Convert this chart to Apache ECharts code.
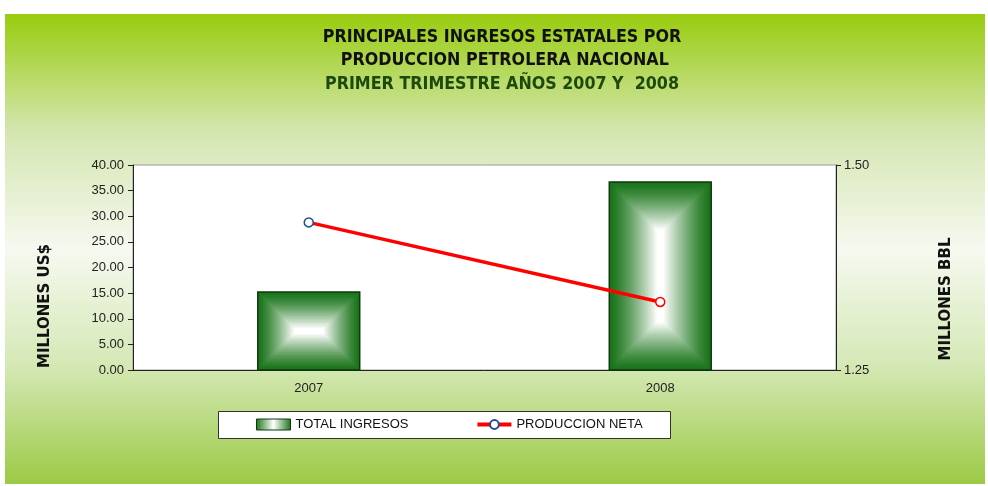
<!DOCTYPE html>
<html>
<head>
<meta charset="utf-8">
<script src="https://cdn.jsdelivr.net/npm/echarts@6/dist/echarts.min.js"></script>
<style>
  html, body { margin: 0; padding: 0; background: #fff; }
  #chart { width: 988px; height: 486px; }
</style>
</head>
<body>
<div id="chart"></div>
<script>
// datos
const years = ['2007', '2008'];
const totalIngresos = [15.2, 36.7];      // millones US$
const produccionNeta = [1.430, 1.333];   // millones BBL
const leftTicks = { min: 0, max: 40, interval: 5 };
const rightTicks = { min: 1.25, max: 1.5, interval: 0.25 };

const titleLines = [
  'PRINCIPALES INGRESOS ESTATALES POR',
  ' PRODUCCION PETROLERA NACIONAL',
  'PRIMER TRIMESTRE AÑOS 2007 Y  2008'
];
const titleColors = ['#111', '#111', '#1d4a0c'];
const markerBorders = ['#1f4e8c', '#ff0000'];

const chart = echarts.init(document.getElementById('chart'));

function mix(a, b, t) {
  const pa = [1, 3, 5].map(i => parseInt(a.substr(i, 2), 16));
  const pb = [1, 3, 5].map(i => parseInt(b.substr(i, 2), 16));
  return 'rgb(' + pa.map((v, i) => Math.round(v + (pb[i] - v) * t)).join(',') + ')';
}

// barra con degradado rectangular desde el centro (como Excel)
function renderBar(params, api) {
  const top = api.coord([api.value(0), api.value(1)]);
  const base = api.coord([api.value(0), 0]);
  const bw = api.size([1, 0])[0] * 0.29;
  const x = top[0] - bw / 2, y = top[1], w = bw, h = base[1] - top[1];
  const m = Math.min(w, h) / 2;
  const steps = 30;
  const children = [];
  for (let k = 0; k < steps; k++) {
    const f = k / (steps - 1);
    const t = f * m;
    children.push({
      type: 'rect',
      shape: { x: x + t, y: y + t, width: Math.max(w - 2 * t, 0.5), height: Math.max(h - 2 * t, 0.5) },
      style: { fill: mix('#1a741a', '#ffffff', Math.min(1, Math.pow(f * 1.08, 1.3))) }
    });
  }
  children.push({
    type: 'rect',
    shape: { x: x, y: y, width: w, height: h },
    style: { fill: null, stroke: '#0c3a0c', lineWidth: 1.5 }
  });
  return { type: 'group', children: children };
}

const axisFont = { fontFamily: 'Liberation Sans', fontSize: 13, color: '#222' };

chart.setOption({
  animation: false,
  graphic: [
    {
      type: 'rect', z: -10, silent: true,
      shape: { x: 5, y: 14, width: 980, height: 470 },
      style: {
        fill: new echarts.graphic.LinearGradient(0, 0, 0, 1, [
          { offset: 0, color: '#98cc0e' },
          { offset: 0.25, color: '#d4e6b0' },
          { offset: 0.5, color: '#f6f9f0' },
          { offset: 0.75, color: '#d4e8b4' },
          { offset: 1, color: '#9cca46' }
        ])
      }
    },
    ...titleLines.map((s, i) => ({
      type: 'text', x: 502, y: 37 + i * 23.5,
      style: {
        text: s, fill: titleColors[i], align: 'center', verticalAlign: 'middle',
        font: 'bold 17.7px "DejaVu Sans Condensed", "DejaVu Sans"'
      }
    })),
    {
      type: 'text', x: 45, y: 306, rotation: Math.PI / 2,
      style: { text: 'MILLONES US$', fill: '#111', align: 'center', verticalAlign: 'middle', font: 'bold 15px "DejaVu Sans"' }
    },
    {
      type: 'text', x: 946, y: 299, rotation: Math.PI / 2,
      style: { text: 'MILLONES BBL', fill: '#111', align: 'center', verticalAlign: 'middle', font: 'bold 15px "DejaVu Sans"' }
    },
    {
      type: 'rect', z: 0, silent: true,
      shape: { x: 218.5, y: 411.5, width: 452, height: 27 },
      style: { fill: '#fff', stroke: '#333', lineWidth: 1 }
    }
  ],
  grid: {
    left: 133, right: 152, top: 165, bottom: 116,
    show: true, backgroundColor: '#fff', borderColor: '#999', borderWidth: 1
  },
  legend: {
    left: 256, top: 418, padding: 0,
    itemWidth: 34, itemHeight: 11, itemGap: 67,
    textStyle: { fontFamily: 'Liberation Sans', fontSize: 13, color: '#111' },
    data: [
      {
        name: 'TOTAL INGRESOS', icon: 'rect',
        itemStyle: {
          color: new echarts.graphic.LinearGradient(0, 0, 1, 0, [
            { offset: 0, color: '#1a741a' }, { offset: 0.5, color: '#ffffff' }, { offset: 1, color: '#1a741a' }
          ]),
          borderColor: '#0c3a0c', borderWidth: 1
        }
      },
      { name: 'PRODUCCION NETA', lineStyle: { width: 4, color: '#ff0000' } }
    ]
  },
  xAxis: {
    type: 'category', data: years,
    axisLine: { lineStyle: { color: '#222' } },
    axisTick: { length: 6, lineStyle: { color: '#222' } },
    axisLabel: Object.assign({ margin: 12 }, axisFont)
  },
  yAxis: [
    {
      type: 'value', min: leftTicks.min, max: leftTicks.max, interval: leftTicks.interval,
      axisLine: { show: true, lineStyle: { color: '#222' } },
      axisTick: { show: true, length: 5, lineStyle: { color: '#222' } },
      splitLine: { show: false },
      axisLabel: Object.assign({ margin: 9, formatter: v => v.toFixed(2) }, axisFont)
    },
    {
      type: 'value', position: 'right', min: rightTicks.min, max: rightTicks.max, interval: rightTicks.interval,
      axisLine: { show: true, lineStyle: { color: '#222' } },
      axisTick: { show: true, length: 5, lineStyle: { color: '#222' } },
      splitLine: { show: false },
      axisLabel: Object.assign({ margin: 8, formatter: v => v.toFixed(2) }, axisFont)
    }
  ],
  series: [
    {
      name: 'TOTAL INGRESOS', type: 'custom', renderItem: renderBar,
      encode: { x: 0, y: 1 },
      itemStyle: { color: '#1a741a' },
      data: totalIngresos.map((v, i) => [i, v])
    },
    {
      name: 'PRODUCCION NETA', type: 'line', yAxisIndex: 1,
      symbol: 'circle', symbolSize: 9, z: 5,
      lineStyle: { color: '#ff0000', width: 3.5 },
      itemStyle: { color: '#fff', borderColor: markerBorders[0], borderWidth: 1.5 },
      data: produccionNeta.map((v, i) => ({
        value: v,
        itemStyle: { color: '#fff', borderColor: markerBorders[i], borderWidth: 1.5 }
      }))
    }
  ]
});
</script>
</body>
</html>
